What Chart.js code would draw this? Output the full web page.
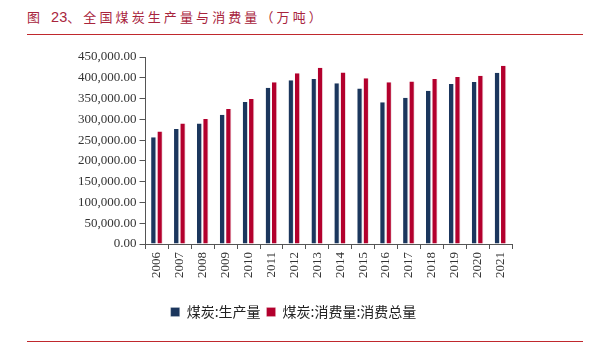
<!DOCTYPE html>
<html>
<head>
<meta charset="utf-8">
<script src="https://cdn.jsdelivr.net/npm/chart.js@4.4.0/dist/chart.umd.min.js"></script>
<style>
  body { margin: 0; background: #fff; width: 593px; height: 351px; position: relative; overflow: hidden; }
  #title { position: absolute; left: 27px; top: 7px; font-family: "Noto Sans CJK SC", sans-serif; font-size: 13px; color: #a8243c; letter-spacing: 3.1px; white-space: nowrap; }
  #title b { font-family: "Liberation Sans", sans-serif; font-size: 14.5px; font-weight: normal; letter-spacing: 0; margin-left: 8px; }
  .rule { position: absolute; left: 27px; width: 556px; height: 1px; background: #c0282d; }
  #wrap { position: absolute; left: 0; top: 38px; width: 593px; height: 300px; }
</style>
</head>
<body>
<div id="title">图<b>23</b>、全国煤炭生产量与消费量（万吨）</div>
<div class="rule" style="top:34px"></div>
<div class="rule" style="top:341px"></div>
<div id="wrap"><canvas id="myChart"></canvas></div>
<script>
var years = ["2006","2007","2008","2009","2010","2011","2012","2013","2014","2015","2016","2017","2018","2019","2020","2021"];
var production = [257000, 277000, 290000, 311000, 342000, 376000, 394000, 397000, 387000, 374000, 341000, 352000, 369000, 385000, 390000, 412000];
var consumption = [271000, 290000, 301000, 325000, 349000, 389000, 411000, 424000, 413000, 399000, 389000, 391000, 397000, 402000, 405000, 429000];

var serif = "'Liberation Serif', 'Times New Roman', serif";

var ctx = document.getElementById("myChart").getContext('2d');
var myChart = new Chart(ctx, {
  type: 'bar',
  data: {
    labels: years,
    datasets: [{
      label: "煤炭:生产量",
      backgroundColor: "#1b365d",
      borderColor: "#e3e6ec",
      borderWidth: { right: 1, top: 0, left: 0, bottom: 0 },
      data: production
    }, {
      label: "煤炭:消费量:消费总量",
      backgroundColor: "#b3002d",
      borderColor: "#f0dde2",
      borderWidth: { right: 1, top: 0, left: 0, bottom: 0 },
      data: consumption
    }]
  },
  options: {
    responsive: true,
    maintainAspectRatio: false,
    animation: false,
    layout: { padding: { left: 75, right: 81, top: 19, bottom: 9 } },
    categoryPercentage: 0.55,
    barPercentage: 0.85,
    plugins: {
      tooltip: { enabled: false },
      legend: {
        position: 'bottom',
        title: { display: true, text: ' ', padding: 3, font: { size: 10 } },
        labels: {
          boxWidth: 9,
          boxHeight: 9,
          padding: 6,
          color: '#222',
          font: { family: "'Noto Sans CJK SC', sans-serif", size: 14 }
        }
      }
    },
    scales: {
      x: {
        grid: { display: true, drawOnChartArea: false, drawTicks: true, tickLength: 5, color: '#555', offset: true },
        border: { color: '#555', width: 1 },
        ticks: { minRotation: 90, maxRotation: 90, color: '#333', padding: 3, font: { family: serif, size: 13 } }
      },
      y: {
        min: 0,
        max: 450000,
        grid: { display: true, drawOnChartArea: false, drawTicks: true, tickLength: 6, color: '#555' },
        border: { color: '#555', width: 1 },
        ticks: {
          stepSize: 50000,
          color: '#333',
          padding: 3,
          font: { family: serif, size: 13 },
          callback: function(v) {
            return v.toLocaleString('en-US', { minimumFractionDigits: 2, maximumFractionDigits: 2 });
          }
        }
      }
    }
  }
});
</script>
</body>
</html>
